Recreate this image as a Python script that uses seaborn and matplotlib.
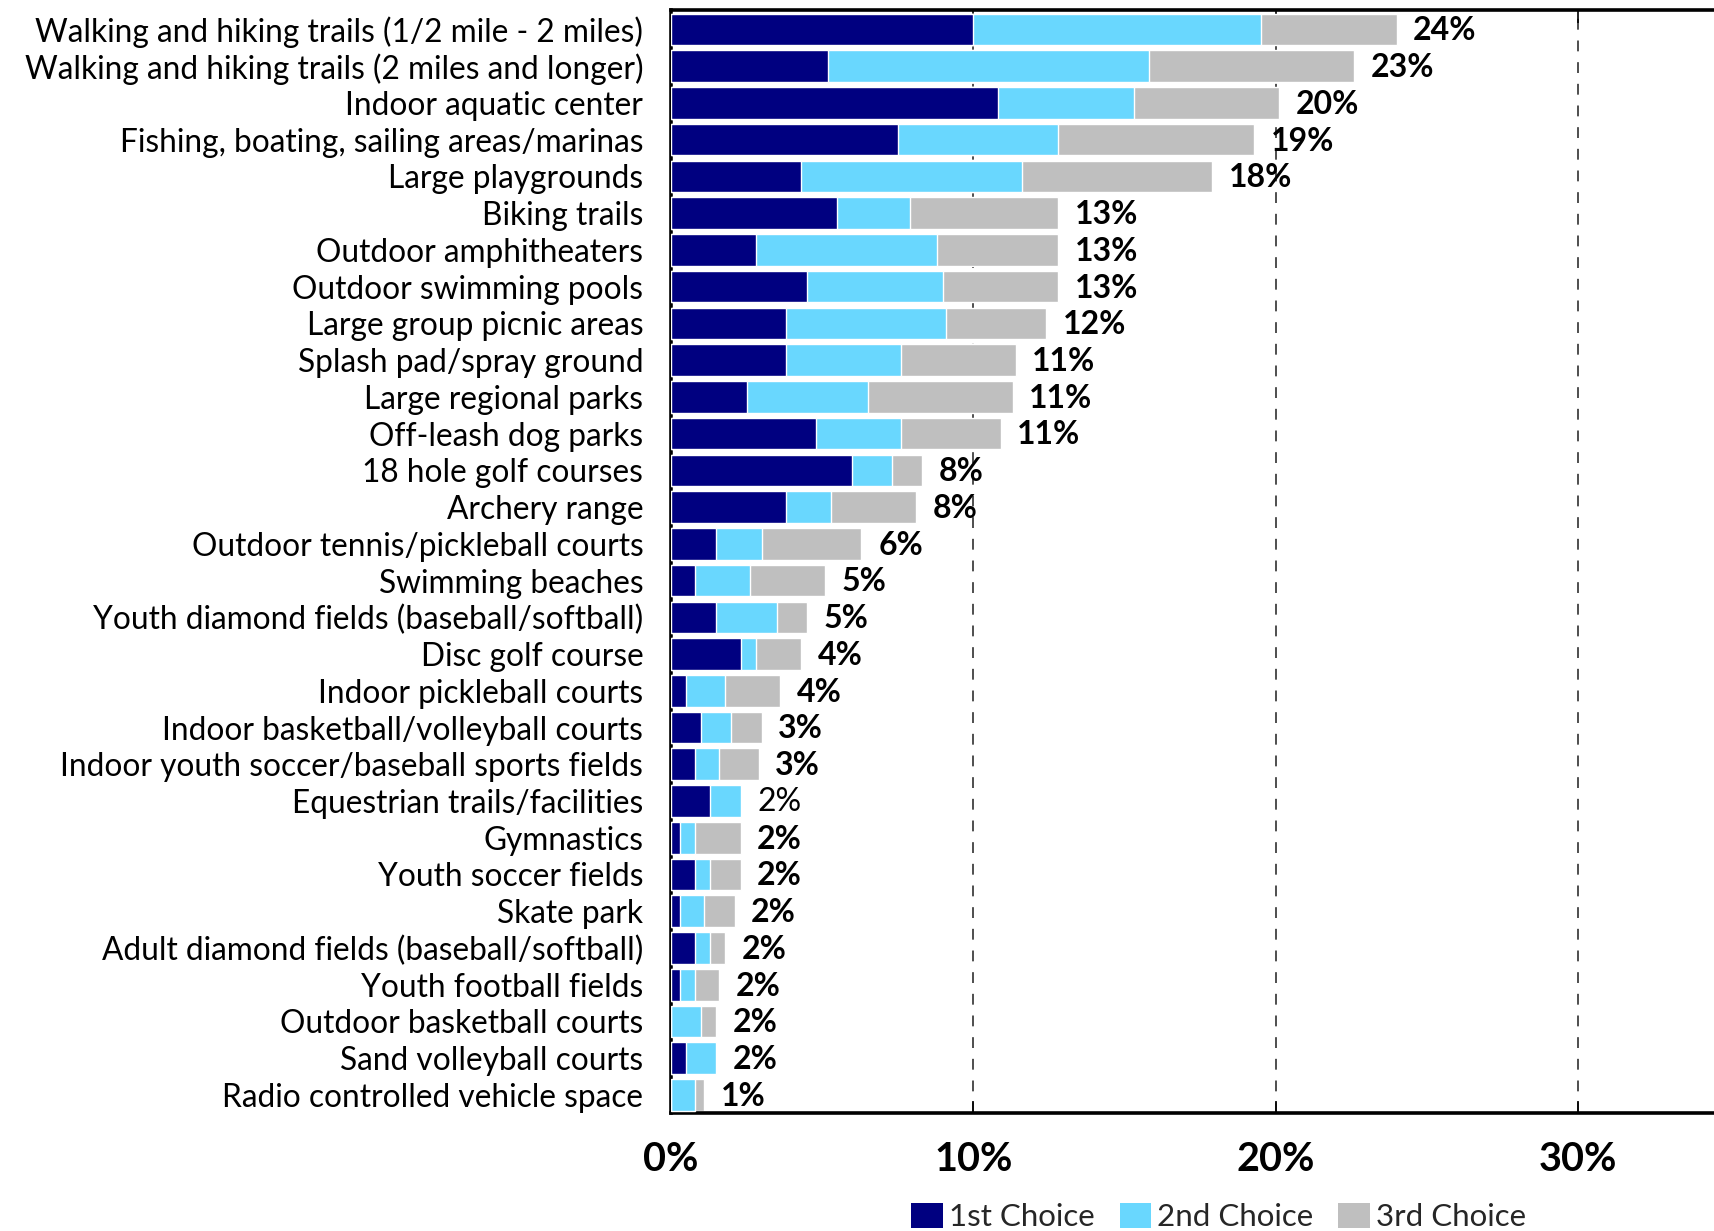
import matplotlib
matplotlib.use("Agg")
import matplotlib.pyplot as plt
from matplotlib.patches import Patch
import seaborn as sns
import pandas as pd
import numpy as np

categories = [
    "Walking and hiking trails (1/2 mile - 2 miles)",
    "Walking and hiking trails (2 miles and longer)",
    "Indoor aquatic center",
    "Fishing, boating, sailing areas/marinas",
    "Large playgrounds",
    "Biking trails",
    "Outdoor amphitheaters",
    "Outdoor swimming pools",
    "Large group picnic areas",
    "Splash pad/spray ground",
    "Large regional parks",
    "Off-leash dog parks",
    "18 hole golf courses",
    "Archery range",
    "Outdoor tennis/pickleball courts",
    "Swimming beaches",
    "Youth diamond fields (baseball/softball)",
    "Disc golf course",
    "Indoor pickleball courts",
    "Indoor basketball/volleyball courts",
    "Indoor youth soccer/baseball sports fields",
    "Equestrian trails/facilities",
    "Gymnastics",
    "Youth soccer fields",
    "Skate park",
    "Adult diamond fields (baseball/softball)",
    "Youth football fields",
    "Outdoor basketball courts",
    "Sand volleyball courts",
    "Radio controlled vehicle space",
]
first_choice = [10.0, 5.2, 10.8, 7.5, 4.3, 5.5, 2.8, 4.5, 3.8, 3.8, 2.5, 4.8, 6.0, 3.8,
                1.5, 0.8, 1.5, 2.3, 0.5, 1.0, 0.8, 1.3, 0.3, 0.8, 0.3, 0.8, 0.3, 0.0, 0.5, 0.0]
second_choice = [9.5, 10.6, 4.5, 5.3, 7.3, 2.4, 6.0, 4.5, 5.3, 3.8, 4.0, 2.8, 1.3, 1.5,
                 1.5, 1.8, 2.0, 0.5, 1.3, 1.0, 0.8, 1.0, 0.5, 0.5, 0.8, 0.5, 0.5, 1.0, 1.0, 0.8]
third_choice = [4.5, 6.8, 4.8, 6.5, 6.3, 4.9, 4.0, 3.8, 3.3, 3.8, 4.8, 3.3, 1.0, 2.8,
                3.3, 2.5, 1.0, 1.5, 1.8, 1.0, 1.3, 0.0, 1.5, 1.0, 1.0, 0.5, 0.8, 0.5, 0.0, 0.3]
total_labels = ["24%", "23%", "20%", "19%", "18%", "13%", "13%", "13%", "12%", "11%",
                "11%", "11%", "8%", "8%", "6%", "5%", "5%", "4%", "4%", "3%",
                "3%", "2%", "2%", "2%", "2%", "2%", "2%", "2%", "2%", "1%"]
series_names = ["1st Choice", "2nd Choice", "3rd Choice"]
x_ticks = [0, 10, 20, 30]
x_tick_labels = ["0%", "10%", "20%", "30%"]

regular_weight_labels = {"Equestrian trails/facilities"}
colors = ["#000080", "#69D7FE", "#BFBFBF"]

sns.set_theme(style="white")
plt.rcParams["font.family"] = ["Lato", "DejaVu Sans"]

c1 = np.array(first_choice)
c12 = c1 + np.array(second_choice)
c123 = c12 + np.array(third_choice)
df = pd.DataFrame({"cat": categories, "c1": c1, "c12": c12, "c123": c123})

fig = plt.figure(figsize=(17.14, 12.31), dpi=100)
ax = fig.add_axes([0.3915, 0.0959, 0.6085, 0.8960])

bar_w = 0.86
sns.barplot(data=df, y="cat", x="c123", color=colors[2], saturation=1, width=bar_w,
            errorbar=None, orient="h", ax=ax, zorder=2)
sns.barplot(data=df, y="cat", x="c12", color=colors[1], saturation=1, width=bar_w,
            errorbar=None, orient="h", ax=ax, zorder=3)
sns.barplot(data=df, y="cat", x="c1", color=colors[0], saturation=1, width=bar_w,
            errorbar=None, orient="h", ax=ax, zorder=4)

for i, (tot, lab, cat) in enumerate(zip(c123, total_labels, categories)):
    ax.annotate(lab, (tot, i), xytext=(12, -1), textcoords="offset points",
                va="center", ha="left", fontsize=23, color="black",
                fontweight="normal" if cat in regular_weight_labels else "bold",
                zorder=5)

ax.set_xlim(0, 34.5)
ax.set_ylim(len(categories) - 0.51, -0.53)
ax.set_xticks(x_ticks)
ax.set_xticklabels(x_tick_labels, fontsize=28.5, fontweight="bold")
ax.set_xlabel("")
ax.set_ylabel("")
ax.tick_params(axis="y", labelsize=22.8, length=0, pad=20, labelcolor="black")
ax.tick_params(axis="x", direction="in", length=9, width=1.2, color="black",
               pad=20, labelcolor="black", top=True, bottom=True)

ax.xaxis.grid(True, linestyle=(0, (6, 6)), color="#404040", linewidth=1.3)
ax.yaxis.grid(False)
ax.set_axisbelow(True)

for side in ["left", "top", "bottom"]:
    ax.spines[side].set_visible(True)
    ax.spines[side].set_color("black")
    ax.spines[side].set_linewidth(2.6)
ax.spines["right"].set_visible(False)

handles = [Patch(facecolor=c, edgecolor="none") for c in colors]
fig.legend(handles, series_names, loc="center", bbox_to_anchor=(0.711, 0.0115),
           ncol=3, frameon=False, fontsize=22.5, handlelength=1.0, handleheight=0.85,
           handletextpad=0.2, columnspacing=0.8, borderpad=0)

fig.savefig("out.png", dpi=100)
